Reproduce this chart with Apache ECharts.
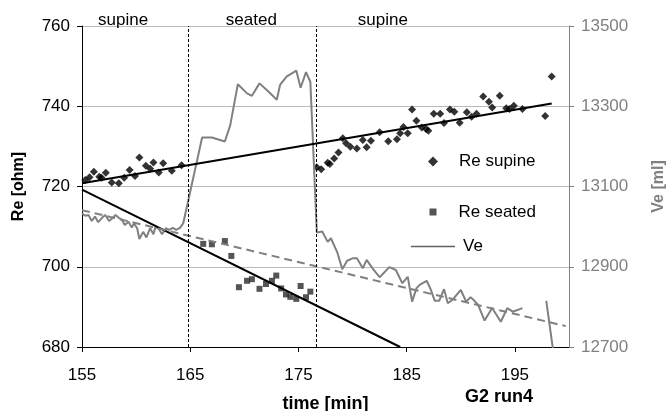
<!DOCTYPE html>
<html lang="en">
<head>
  <meta charset="UTF-8">
  <title>Re / Ve vs time</title>
  <style>html, body { margin: 0; padding: 0; background: #fff; }</style>
</head>
<body>
  <div id="main" style="width: 671px; height: 411px"></div>
  <script src="https://cdn.jsdelivr.net/npm/echarts@6.0.0/dist/echarts.min.js"></script>
  <script>
    // Re supine (diamonds)
    const supineTime = [155.3, 155.7, 156.1, 156.6, 156.8, 157.2, 157.75, 158.4, 158.9, 159.4,
      159.9, 160.3, 160.9, 161.3, 161.6, 162.1, 162.5, 163.3, 164.2,
      176.7, 177.1, 177.7, 177.9, 178.3, 178.7, 179.1, 179.4, 179.8, 180.4,
      180.95, 181.3, 181.7, 182.5, 183.3, 184.1, 184.4, 184.7, 185.1, 185.5,
      185.9, 186.4, 186.8, 187.0, 187.5, 188.1, 188.45, 189.0, 189.4, 189.9,
      190.56, 191.0, 191.45, 192.07, 192.6, 192.9, 193.6, 194.2, 194.5, 194.9,
      195.7, 197.8, 198.4]
    const supineRe = [721.6, 722.3, 723.7, 722.4, 722.2, 723.4, 721.0, 720.8, 722.2, 724.1,
      722.6, 727.2, 725.2, 724.4, 726.0, 723.5, 725.8, 723.9, 725.3,
      724.8, 724.3, 725.9, 725.6, 727.0, 728.5, 732.0, 730.8, 729.9, 729.5,
      731.6, 729.8, 731.4, 733.5, 731.3, 731.8, 733.3, 734.8, 733.3, 739.2,
      736.4, 734.7, 734.3, 733.9, 738.1, 738.1, 735.8, 739.2, 738.6, 735.9,
      738.5, 737.4, 738.1, 742.4, 741.1, 739.7, 742.6, 739.5, 739.3, 740.1,
      739.3, 737.6, 747.4]

    // Re seated (squares)
    const seatedTime = [166.2, 167.0, 168.2, 168.8, 169.5, 170.25, 170.7, 171.4, 172.0,
      172.55, 172.95, 173.4, 173.85, 174.25, 174.8, 175.2, 175.7, 176.1]
    const seatedRe = [705.7, 705.6, 706.4, 702.7, 694.9, 696.5, 696.9, 694.5, 695.7,
      696.5, 697.8, 694.6, 693.1, 692.5, 692.0, 695.2, 692.4, 693.8]

    // Ve [ml] (grey line, right axis); null = gap in the trace
    const veTime = [155.0, 155.3, 155.6, 155.9, 156.2, 156.5, 156.85, 157.15, 157.5, 157.8,
      158.1, 158.4, 158.7, 158.95, 159.3, 159.6, 159.8, 160.1, 160.3, 160.65,
      160.95, 161.3, 161.6, 161.8, 162.1, 162.4, 162.75, 163.05, 163.4, 163.7,
      164.05, 164.35, 166.1, 167.0, 168.2, 168.7, 169.4, 170.25, 170.7, 171.4,
      172.25, 173.0, 173.3, 173.9, 174.8, 175.2, 175.7, 176.1, 176.7, 177.2,
      177.7, 178.0, 178.6, 179.05, 179.5, 180.0, 180.4, 180.95, 181.3, 181.9,
      182.5, 183.4, 184.0, 184.6, 185.1, 185.5, 185.9, 186.2, 186.85, 187.2,
      187.6, 188.0, 188.45, 188.8, 189.2, 190.0, 190.5, 190.9, 191.2, 191.6,
      192.2, 192.9, 193.7, 194.3, 194.8, 195.7, 196.8, 197.9, 198.9]
    const veValue = [13033, 13027, 13029, 13014, 13025, 13011, 13022, 13029, 13014, 13021,
      13029, 13022, 13017, 13004, 13012, 12998, 13008, 12996, 12969, 12987,
      12973, 12996, 12981, 13000, 12994, 12981, 12996, 12992, 12997, 12992,
      12997, 13008, 13222, 13222, 13212, 13253, 13355, 13332, 13326, 13357,
      13336, 13316, 13353, 13374, 13389, 13346, 13385, 13361, 12985, 12988,
      12962, 12971, 12935, 12894, 12915, 12921, 12921, 12896, 12917, 12894,
      12874, 12899, 12892, 12859, 12875, 12813, 12846, 12855, 12865, 12845,
      12815, 12815, 12844, 12809, 12817, 12842, 12813, 12824, 12817, 12805,
      12766, 12797, 12763, 12797, 12788, 12797, null, 12815, 12620]

    // trend lines (end points)
    const supineFitTime = [155, 198.4]
    const supineFitRe = [720.8, 740.7]
    const seatedFitTime = [155, 184.4]
    const seatedFitRe = [719.2, 680]
    const veFitTime = [155, 199.7]
    const veFitValue = [13041, 12752]

    // posture changes and phase labels
    const postureChange = [164.84, 176.6]
    const phaseNames = ['supine', 'seated', 'supine']
    const phaseCenter = [158.8, 170.65, 182.8]

    const pairs = (xs, ys) => xs.map((x, i) => [x, ys[i]])
    const font = 'Liberation Sans'

    let myChart = echarts.init(document.getElementById('main'))

    let option = {
      animation: false,
      textStyle: { fontFamily: font },
      grid: { left: 82, right: 102, top: 26, bottom: 64, containLabel: false, outerBoundsMode: 'none' },
      xAxis: {
        type: 'value', min: 155, max: 200, interval: 10,
        axisLine: { lineStyle: { color: '#000', width: 1 } },
        axisTick: { length: 5, lineStyle: { color: '#000' } },
        axisLabel: { color: '#000', fontSize: 17, margin: 20, showMaxLabel: false },
        splitLine: { show: false },
        name: 'time [min]', nameLocation: 'middle', nameGap: 48,
        nameTextStyle: { fontSize: 18, fontWeight: 'bold', color: '#000' }
      },
      yAxis: [
        {
          type: 'value', min: 680, max: 760, interval: 20,
          axisLine: { show: true, lineStyle: { color: '#000', width: 1 } },
          axisTick: { show: true, length: 5, lineStyle: { color: '#000' } },
          axisLabel: { color: '#000', fontSize: 17, margin: 12 },
          splitLine: { lineStyle: { color: '#bbb', width: 1 } },
          name: 'Re [ohm]', nameLocation: 'middle', nameGap: 55, nameRotate: 90,
          nameTextStyle: { fontSize: 16, fontWeight: 'bold', color: '#000' }
        },
        {
          type: 'value', position: 'right', min: 12700, max: 13500, interval: 200,
          axisLine: { show: true, lineStyle: { color: '#808080', width: 1 } },
          axisTick: { show: true, length: 5, lineStyle: { color: '#808080' } },
          axisLabel: { color: '#808080', fontSize: 17, margin: 12, formatter: v => String(v) },
          splitLine: { show: false },
          name: 'Ve [ml]', nameLocation: 'middle', nameGap: 82, nameRotate: 90,
          nameTextStyle: { fontSize: 16, fontWeight: 'bold', color: '#808080' }
        }
      ],
      legend: [
        {
          data: [{ name: 'Re supine', icon: 'diamond' }],
          left: 428, top: 153, padding: 0, itemWidth: 10, itemHeight: 10, selectedMode: false,
          textStyle: { fontSize: 17, color: '#000', padding: [0, 0, 0, 16] }
        },
        {
          data: [{ name: 'Re seated', icon: 'rect' }],
          left: 429.5, top: 203.5, padding: 0, itemWidth: 7, itemHeight: 7, selectedMode: false,
          textStyle: { fontSize: 17, color: '#000', padding: [0, 0, 0, 17] }
        },
        {
          data: [{ name: 'Ve', icon: 'rect' }],
          left: 411, top: 238, padding: 0, itemWidth: 44, itemHeight: 1.5, selectedMode: false,
          itemStyle: { color: '#606060' },
          textStyle: { fontSize: 17, color: '#000', padding: [0, 0, 0, 3] }
        }
      ],
      series: [
        {
          name: 'Re supine', type: 'scatter', symbol: 'diamond', symbolSize: 8,
          itemStyle: { color: '#000' },
          data: pairs(supineTime, supineRe)
        },
        {
          name: 'Re seated', type: 'scatter', symbol: 'rect', symbolSize: 6,
          itemStyle: { color: '#2a2a2a' },
          data: pairs(seatedTime, seatedRe)
        },
        {
          name: 'Ve', type: 'line', yAxisIndex: 1, symbol: 'none', connectNulls: false,
          lineStyle: { color: '#808080', width: 2 }, itemStyle: { color: '#808080' },
          data: pairs(veTime, veValue)
        },
        {
          name: 'supine fit', type: 'line', symbol: 'none',
          lineStyle: { color: '#000', width: 2 },
          data: pairs(supineFitTime, supineFitRe),
          markLine: {
            silent: true, symbol: ['none', 'none'], label: { show: false },
            lineStyle: { color: '#000', width: 1, type: [3, 2] },
            data: postureChange.map(t => ({ xAxis: t }))
          },
          markPoint: {
            silent: true, symbol: 'circle', symbolSize: 0,
            label: { show: true, position: 'inside', offset: [0, -6], formatter: '{b}', fontSize: 17, color: '#000' },
            data: phaseNames.map((n, i) => ({ name: n, coord: [phaseCenter[i], 760] }))
          }
        },
        {
          name: 'seated fit', type: 'line', symbol: 'none',
          lineStyle: { color: '#000', width: 2 },
          data: pairs(seatedFitTime, seatedFitRe)
        },
        {
          name: 'Ve fit', type: 'line', yAxisIndex: 1, symbol: 'none',
          lineStyle: { color: '#808080', width: 2, type: [8, 5] },
          data: pairs(veFitTime, veFitValue)
        }
      ],
      graphic: [
        {
          type: 'text', left: 465, top: 388,
          style: { text: 'G2 run4', font: 'bold 18px "Liberation Sans"', fill: '#000' }
        }
      ]
    }

    myChart.setOption(option)
  </script>
</body>
</html>
